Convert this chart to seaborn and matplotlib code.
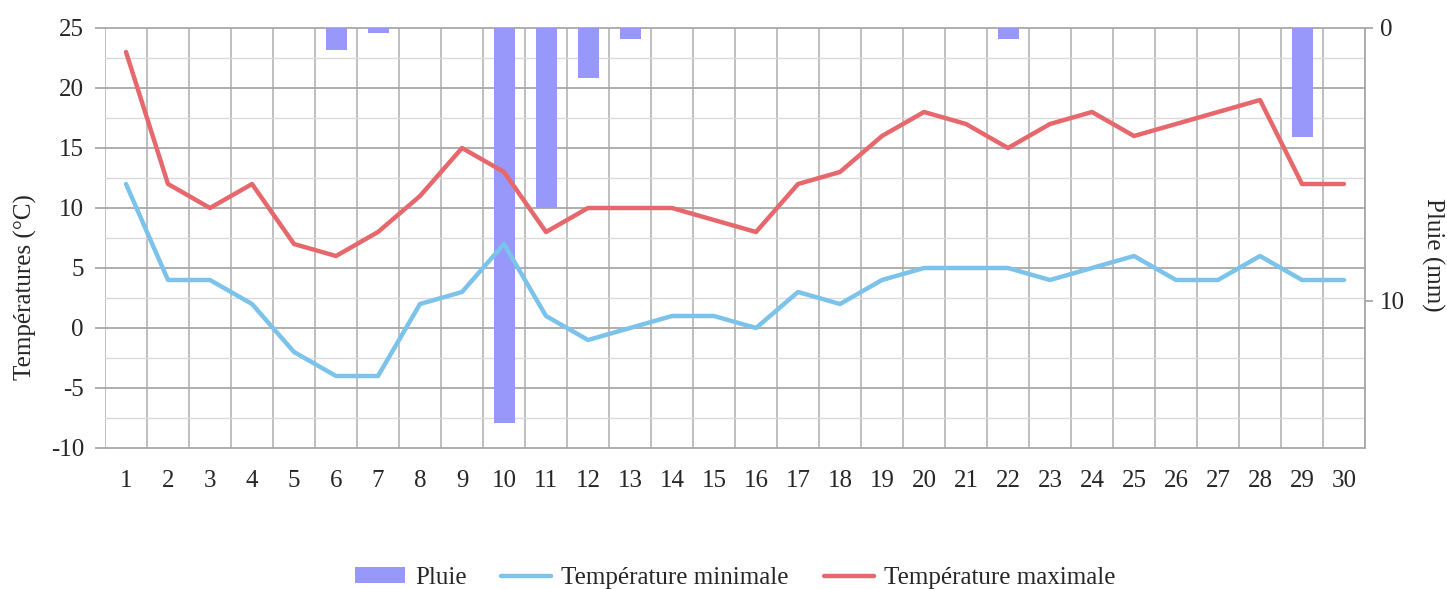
import numpy as np
import pandas as pd
import matplotlib
matplotlib.use('Agg')
import matplotlib.pyplot as plt
from matplotlib.ticker import MultipleLocator, FixedLocator
import seaborn as sns

# Données (jour du mois)
jours = list(range(1, 31))
temp_min = [12, 4, 4, 2, -2, -4, -4, 2, 3, 7, 1, -1, 0, 1, 1,
            0, 3, 2, 4, 5, 5, 5, 4, 5, 6, 4, 4, 6, 4, 4]
temp_max = [23, 12, 10, 12, 7, 6, 8, 11, 15, 13, 8, 10, 10, 10, 9,
            8, 12, 13, 16, 18, 17, 15, 17, 18, 16, 17, 18, 19, 12, 12]
pluie = [0, 0, 0, 0, 0, 0.8, 0.2, 0, 0, 14.5, 6.6, 1.85, 0.4, 0, 0,
         0, 0, 0, 0, 0, 0, 0.4, 0, 0, 0, 0, 0, 0, 4.0, 0]

df = pd.DataFrame({"jour": [str(j) for j in jours], "idx": np.arange(len(jours)),
                   "tmin": temp_min, "tmax": temp_max, "pluie": pluie})

C_PLUIE = "#9898FA"
C_MIN = "#7CC3EC"
C_MAX = "#E6686C"
GRID_MAJ = "#A8A8A8"
GRID_MIN = "#DADADA"

sns.set_theme(style="white")
plt.rcParams['font.family'] = ['Liberation Serif', 'DejaVu Serif']
plt.rcParams['axes.unicode_minus'] = False
FS = 18

fig = plt.figure(figsize=(14.47, 5.89), dpi=100)
ax = fig.add_axes([105 / 1447, 1 - 448 / 589, 1260 / 1447, 420 / 589])

# axe des températures : grille et graduations
ax.set_xlim(-0.5, 29.5)
ax.set_ylim(-10, 25)
ax.yaxis.set_major_locator(MultipleLocator(5))
ax.yaxis.set_minor_locator(MultipleLocator(2.5))
ax.xaxis.set_major_locator(FixedLocator(df["idx"]))
ax.xaxis.set_minor_locator(FixedLocator(np.arange(-0.5, 30, 1)))
ax.set_xticklabels(df["jour"])
ax.grid(which='major', axis='y', color=GRID_MAJ, lw=1.3)
ax.grid(which='minor', axis='y', color=GRID_MIN, lw=1.0)
ax.grid(which='minor', axis='x', color="#B4B4B4", lw=1.2)
ax.grid(which='major', axis='x', visible=False)
for gl in ax.get_ygridlines():
    gl.set_clip_on(False)
ax.tick_params(axis='y', which='major', length=7.2, width=1.3, color=GRID_MAJ,
               pad=8, labelsize=FS, left=True)
ax.tick_params(axis='y', which='minor', length=0)
ax.tick_params(axis='x', which='both', length=0, pad=16, labelsize=FS)
for s in ax.spines.values():
    s.set_visible(False)
ax.set_ylabel("Températures (°C)", fontsize=FS, rotation=90)
ax.yaxis.set_label_coords(-0.0635, 0.383)
ax.yaxis.label.set_va('center')

# axe de la pluie (inversé) : barres
ax2 = ax.twinx()
sns.barplot(data=df, x="jour", y="pluie", ax=ax2, color=C_PLUIE, width=0.5,
            saturation=1, linewidth=0, label="Pluie")
ax2.set_xlim(-0.5, 29.5)
ax2.set_ylim(15.4, 0)
ax2.set_yticks([0, 10])
ax2.set_xlabel("")
ax2.tick_params(axis='y', length=5.8, width=1.3, color=GRID_MAJ, pad=5, labelsize=FS)
for k, s in ax2.spines.items():
    s.set_visible(k == 'right')
ax2.spines['right'].set_color(GRID_MAJ)
ax2.spines['right'].set_linewidth(1.3)
ax2.set_ylabel("Pluie (mm)", fontsize=FS, rotation=270)
ax2.yaxis.set_label_coords(1.054, 0.46)
ax2.yaxis.label.set_va('center')
if ax2.get_legend():
    ax2.get_legend().remove()

# courbes de température au-dessus des barres
ax3 = ax.twinx()
sns.lineplot(data=df, x="idx", y="tmin", ax=ax3, color=C_MIN, lw=3.2,
             label="Température minimale")
sns.lineplot(data=df, x="idx", y="tmax", ax=ax3, color=C_MAX, lw=3.2,
             label="Température maximale")
ax3.set_xlim(-0.5, 29.5)
ax3.set_ylim(-10, 25)
ax3.set_axis_off()
if ax3.get_legend():
    ax3.get_legend().remove()

h2, l2 = ax2.get_legend_handles_labels()
h3, l3 = ax3.get_legend_handles_labels()
fig.legend(h2[:1] + h3, ["Pluie"] + l3, loc='center', bbox_to_anchor=(0.508, 1 - 578 / 589),
           ncol=3, frameon=False, fontsize=FS, handlelength=2.0, handleheight=0.6,
           columnspacing=1.4, handletextpad=0.4, borderpad=0)

fig.savefig("out.png", dpi=100)
